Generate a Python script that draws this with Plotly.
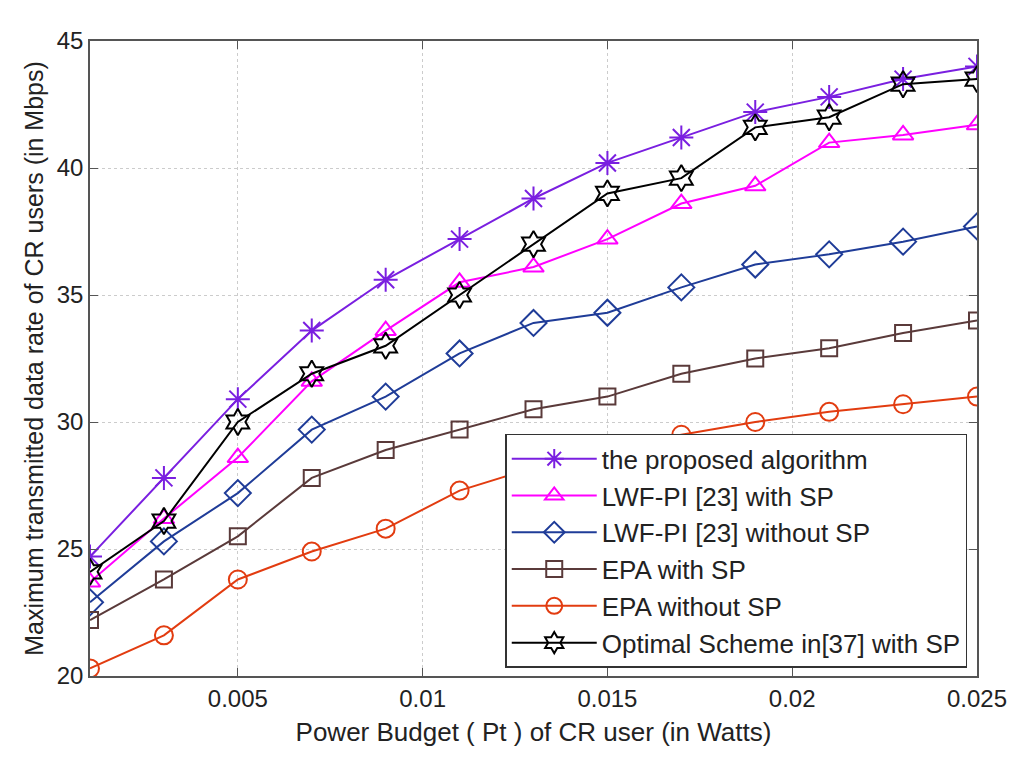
import plotly.graph_objects as go

# power budget (W) and data rates (Mbps)
pt = [0.001, 0.003, 0.005, 0.007, 0.009, 0.011, 0.013, 0.015, 0.017, 0.019, 0.021, 0.023, 0.025]

proposed = [24.7, 27.8, 30.9, 33.6, 35.6, 37.2, 38.8, 40.2, 41.2, 42.2, 42.8, 43.5, 44.0]
lwf_sp = [23.7, 26.2, 28.6, 31.6, 33.6, 35.5, 36.1, 37.2, 38.6, 39.3, 41.0, 41.3, 41.7]
lwf_nosp = [22.9, 25.3, 27.2, 29.7, 31.0, 32.7, 33.9, 34.3, 35.3, 36.2, 36.6, 37.1, 37.7]
epa_sp = [22.2, 23.8, 25.5, 27.8, 28.9, 29.7, 30.5, 31.0, 31.9, 32.5, 32.9, 33.5, 34.0]
epa_nosp = [20.3, 21.6, 23.8, 24.9, 25.8, 27.3, 28.2, 28.9, 29.5, 30.0, 30.4, 30.7, 31.0]
optimal = [24.1, 26.1, 30.0, 31.9, 33.0, 35.0, 37.0, 39.0, 39.6, 41.6, 42.0, 43.3, 43.5]

x_ticks = [0.005, 0.01, 0.015, 0.02, 0.025]
x_tick_text = ['0.005', '0.01', '0.015', '0.02', '0.025']

series = [
    ('the proposed algorithm', proposed, '#7a1fe0', 'asterisk-open', 20),
    ('LWF-PI [23] with SP', lwf_sp, '#ff00ff', 'triangle-up-open', 18),
    ('LWF-PI [23] without SP', lwf_nosp, '#1f3c98', 'diamond-open', 20),
    ('EPA with SP', epa_sp, '#5a3a3a', 'square-open', 16),
    ('EPA without SP', epa_nosp, '#e23c10', 'circle-open', 18),
    ('Optimal Scheme in[37] with SP', optimal, '#000000', 'hexagram-open', 20),
]

fig = go.Figure()
for name, vals, col, sym, sz in series:
    fig.add_trace(go.Scatter(
        x=pt, y=vals, mode='lines+markers', name=name,
        line=dict(color=col, width=2),
        marker=dict(symbol=sym, size=sz, color=col, line=dict(width=2, color=col)),
    ))

axis_common = dict(
    showline=True, linecolor='#555555', linewidth=1.5, mirror='ticks',
    ticks='inside', ticklen=8, tickcolor='#555555',
    showgrid=True, gridcolor='#cccccc', griddash='dot', gridwidth=1,
    zeroline=False, tickfont=dict(size=24, color='#222222'),
)

fig.update_xaxes(
    range=[0.001, 0.025], tickvals=x_ticks, ticktext=x_tick_text,
    title=dict(text='Power Budget ( Pt ) of CR user (in Watts)', font=dict(size=26, color='#222222'), standoff=12),
    **axis_common,
)
fig.update_yaxes(
    range=[20, 45], dtick=5,
    title=dict(text='Maximum transmitted data rate of CR users (in Mbps)', font=dict(size=25, color='#222222'), standoff=6),
    **axis_common,
)

fig.update_layout(
    width=1024, height=764,
    margin=dict(l=82, r=55, t=33, b=96),
    paper_bgcolor='white', plot_bgcolor='white',
    font=dict(family='Liberation Sans, Arial, sans-serif'),
    legend=dict(
        x=0.989, y=0.013, xanchor='right', yanchor='bottom',
        bgcolor='white', bordercolor='#333333', borderwidth=1.5,
        font=dict(size=26, color='#222222'), tracegroupgap=0,
        itemwidth=85,
    ),
    showlegend=True,
)

fig.write_html('out.html')
